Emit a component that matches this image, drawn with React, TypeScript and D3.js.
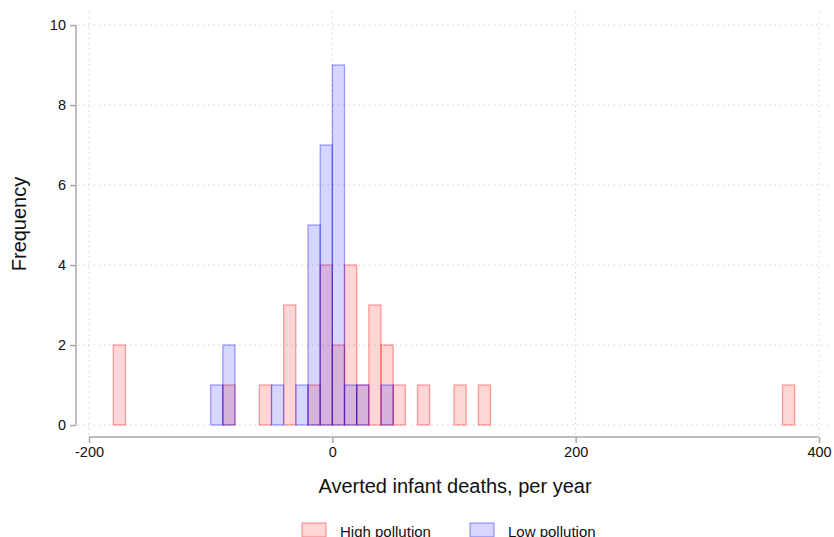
import React, { useEffect, useRef } from 'react'
import * as d3 from 'd3'

// bin start (width 10) and count
const highBins = [-180, -90, -60, -40, -20, -10, 0, 10, 20, 30, 40, 50, 70, 100, 120, 370]
const highCounts = [2, 1, 1, 3, 1, 4, 2, 4, 1, 3, 2, 1, 1, 1, 1, 1]
const lowBins = [-100, -90, -50, -30, -20, -10, 0, 10, 20, 40]
const lowCounts = [1, 2, 1, 1, 5, 7, 9, 1, 1, 1]
const binWidth = 10
const xTicks = [-200, 0, 200, 400]
const yTicks = [0, 2, 4, 6, 8, 10]
const seriesNames = ['High pollution', 'Low pollution']

const App: React.FC = () => {
  const svgRef = useRef<SVGSVGElement | null>(null)

  useEffect(() => {
    if (!svgRef.current) return
    const svg = d3.select(svgRef.current)
    svg.selectAll('*').remove()
    const width = 834
    const height = 537
    const font = '"Liberation Sans", Arial, sans-serif'

    const x = d3.scaleLinear().domain([-200, 400]).range([89, 819])
    const y = d3.scaleLinear().domain([0, 10]).range([425, 25])

    svg.attr('width', width).attr('height', height).style('font-family', font)

    // grid
    svg
      .append('g')
      .selectAll('line')
      .data(yTicks)
      .join('line')
      .attr('x1', 78)
      .attr('x2', 832)
      .attr('y1', d => y(d))
      .attr('y2', d => y(d))
      .attr('stroke', '#c8c8c8')
      .attr('stroke-dasharray', '1.2,4')
    svg
      .append('g')
      .selectAll('line')
      .data(xTicks)
      .join('line')
      .attr('x1', d => x(d))
      .attr('x2', d => x(d))
      .attr('y1', 12)
      .attr('y2', 436)
      .attr('stroke', '#c8c8c8')
      .attr('stroke-dasharray', '1.2,4')

    const series = [
      { bins: highBins, counts: highCounts, color: '255,0,0' },
      { bins: lowBins, counts: lowCounts, color: '0,0,255' },
    ]
    series.forEach(s => {
      svg
        .append('g')
        .selectAll('rect')
        .data(s.bins.map((b, i) => ({ b, c: s.counts[i] })))
        .join('rect')
        .attr('x', d => x(d.b))
        .attr('width', d => x(d.b + binWidth) - x(d.b))
        .attr('y', d => y(d.c))
        .attr('height', d => y(0) - y(d.c))
        .attr('fill', `rgba(${s.color},0.16)`)
        .attr('stroke', `rgba(${s.color},0.35)`)
        .attr('stroke-width', 1.3)
    })

    // y axis
    const yAxis = svg
      .append('g')
      .attr('transform', 'translate(76,0)')
      .call(d3.axisLeft(y).tickValues(yTicks).tickSize(6).tickPadding(4).tickFormat(d => String(d)))
    yAxis.selectAll('path, line').attr('stroke', '#a8a8a8').attr('stroke-width', 1.5)
    yAxis.selectAll('.tick text').attr('font-size', 14.5).attr('font-family', font).attr('fill', '#111')
    yAxis.select('.domain').attr('d', `M-0,${y(10)}V${y(0)}`)

    // x axis
    const xAxis = svg
      .append('g')
      .attr('transform', 'translate(0,437)')
      .call(d3.axisBottom(x).tickValues(xTicks).tickSize(6).tickPadding(4).tickFormat(d => String(d)))
    xAxis.selectAll('path, line').attr('stroke', '#a8a8a8').attr('stroke-width', 1.5)
    xAxis.select('.domain').attr('d', `M${x(-200)},0H${x(400)}`)
    xAxis.selectAll('.tick text').attr('font-size', 14.5).attr('font-family', font).attr('fill', '#111')

    svg
      .append('text')
      .attr('x', 455)
      .attr('y', 493)
      .attr('text-anchor', 'middle')
      .attr('font-size', 20)
      .attr('fill', '#111')
      .text('Averted infant deaths, per year')
    svg
      .append('text')
      .attr('transform', 'translate(26,224) rotate(-90)')
      .attr('text-anchor', 'middle')
      .attr('font-size', 20)
      .attr('fill', '#111')
      .text('Frequency')

    // legend
    const legend = svg.append('g')
    const lx = [302, 470]
    series.forEach((s, i) => {
      legend
        .append('rect')
        .attr('x', lx[i])
        .attr('y', 523)
        .attr('width', 24)
        .attr('height', 14)
        .attr('fill', `rgba(${s.color},0.16)`)
        .attr('stroke', `rgba(${s.color},0.35)`)
        .attr('stroke-width', 1.3)
      legend
        .append('text')
        .attr('x', lx[i] + 38)
        .attr('y', 537)
        .attr('font-size', 15)
        .attr('fill', '#111')
        .text(seriesNames[i])
    })
  }, [])

  return (
    <svg
      ref={svgRef}
      style={{ position: 'absolute', top: 0, left: 0, display: 'block', background: '#fff' }}
    ></svg>
  )
}

export default App
